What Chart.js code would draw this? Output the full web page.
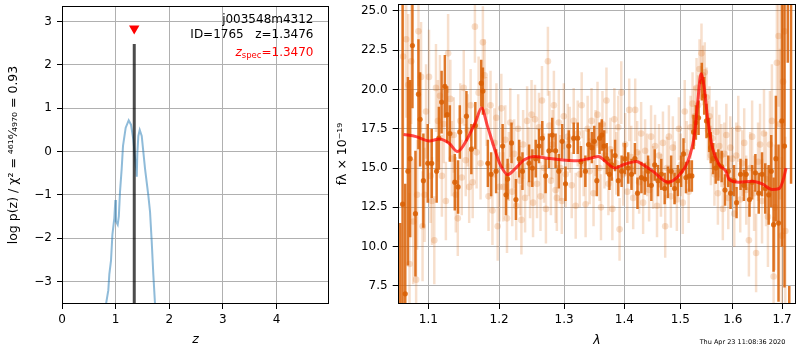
<!DOCTYPE html>
<html lang="en">
<head>
<meta charset="UTF-8">
<title>j003548m4312 redshift fit</title>
<script src="https://cdn.jsdelivr.net/npm/chart.js"></script>
<style>
  body { margin: 0; background: #fff; }
  #wrap { position: relative; width: 800px; height: 350px; }
  canvas { position: absolute; top: 0; }
</style>
</head>
<body>
<div id="wrap">
  <canvas id="pzChart" width="335" height="350" style="left:0"></canvas>
  <canvas id="specChart" width="465" height="350" style="left:335px"></canvas>
</div>
<script>
// ---- left panel: log p(z)
const zGrid = [0.80, 0.821, 0.864, 0.883, 0.914, 0.940, 0.976, 0.995, 1.007, 1.039, 1.060, 1.082, 1.113, 1.138,
  1.188, 1.244, 1.287, 1.330, 1.362, 1.388, 1.394, 1.405, 1.424, 1.450, 1.487, 1.549, 1.610, 1.642, 1.673, 1.703, 1.735, 1.75];
const logPz = [-3.9, -3.52, -3.2, -2.83, -2.52, -1.92, -1.54, -1.12, -1.61, -1.69, -1.50, -0.93, -0.40, 0.13,
  0.55, 0.72, 0.62, 0.28, -0.15, -0.45, -0.58, -0.05, 0.36, 0.50, 0.36, -0.40, -1.01, -1.39, -2.07, -2.83, -3.52, -3.9];
const zTicks = [0, 1, 2, 3, 4];
const pzTicks = [-3, -2, -1, 0, 1, 2, 3];
const zBest = 1.3476, zBestTop = 2.48, zBestBottom = -3.6;
const zSpec = 1.3470, zSpecMark = 2.84;

// ---- right panel: spectrum (wavelength in micron, flux x 1e-19)
const waveDark = [1.0627, 1.0657, 1.0692, 1.0727, 1.0757, 1.0787, 1.0827, 1.0867, 1.0889, 1.0933, 1.0992, 1.1046,
  1.1113, 1.1144, 1.1181, 1.1226, 1.1258, 1.1295, 1.1364, 1.1410, 1.1434, 1.1528, 1.1598, 1.1655, 1.1740, 1.1764,
  1.1836, 1.1884, 1.1957, 1.2053, 1.2103, 1.2127, 1.2186, 1.2252, 1.2301, 1.2351, 1.2452, 1.2502, 1.2554, 1.2605,
  1.2656, 1.2708, 1.2760, 1.2812, 1.2865, 1.2916, 1.2969, 1.3023, 1.3075, 1.3155, 1.3220, 1.3273, 1.3345, 1.3398,
  1.3452, 1.3492, 1.3535, 1.3580, 1.3618, 1.3658, 1.3701, 1.3746, 1.3785, 1.3842, 1.3897, 1.3954, 1.4011, 1.4068,
  1.4125, 1.4184, 1.4229, 1.4298, 1.4358, 1.4416, 1.4474, 1.4534, 1.4593, 1.4652, 1.4713, 1.4772, 1.4831, 1.4893,
  1.4953, 1.5014, 1.5058, 1.5104, 1.5166, 1.5214, 1.5246, 1.5289, 1.5340, 1.5401, 1.5447, 1.5490, 1.5541, 1.5572,
  1.5618, 1.5667, 1.5718, 1.5782, 1.5847, 1.5911, 1.5956, 1.6023, 1.6074, 1.6153, 1.6220, 1.6266, 1.6332, 1.6385,
  1.6451, 1.6519, 1.6586, 1.6652, 1.6722, 1.6775, 1.6823, 1.6871, 1.6926, 1.6995, 1.7051, 1.7120, 1.7151, 1.7189];
const fluxDark = [5.5, 12.7, 7.0, 14.8, 15.6, 22.8, 12.1, 19.7, 18.1, 14.2, 15.3, 15.3,
  14.8, 16.9, 19.2, 20.2, 18.4, 17.2, 14.1, 13.8, 17.3, 18.3, 16.2, 17.7, 20.4, 19.9,
  15.3, 14.6, 14.8, 16.4, 13.3, 14.3, 16.6, 13.0, 15.6, 14.8, 15.3, 15.0, 15.6, 16.4,
  16.9, 14.5, 16.1, 17.1, 16.1, 14.8, 16.7, 14.0, 16.4, 16.9, 16.9, 15.4, 14.8, 16.5,
  16.3, 16.7, 14.2, 16.9, 17.1, 16.4, 15.6, 14.6, 15.2, 15.8, 14.2, 14.8, 15.6, 15.0,
  14.6, 15.6, 13.4, 14.4, 14.3, 14.8, 13.9, 15.2, 14.2, 14.6, 13.7, 14.1, 14.8, 13.7,
  14.2, 14.8, 15.9, 14.4, 14.5, 14.5, 17.3, 17.9, 18.2, 20.5, 19.6, 18.0, 17.1, 16.3,
  15.6, 15.0, 15.2, 15.1, 13.6, 14.8, 13.4, 14.2, 12.8, 14.6, 13.9, 14.6, 13.0, 14.1,
  14.7, 13.4, 14.6, 13.7, 13.3, 14.8, 11.4, 15.6, 11.5, 18.0, 16.4, 30.0, 0.0, 30.0];
const errDark = [6, 13, 7, 6, 5, 4, 4, 3.5, 3, 3, 2.5, 2.2,
  2.0, 2.0, 2.0, 2.0, 1.8, 1.8, 1.8, 1.7, 1.7, 1.6, 1.6, 1.5, 1.5, 1.5,
  1.5, 1.4, 1.4, 1.4, 1.3, 1.3, 1.3, 1.3, 1.2, 1.2, 1.2, 1.2, 1.2, 1.1,
  1.1, 1.1, 1.1, 1.1, 1.1, 1.1, 1.1, 1.1, 1.0, 1.0, 1.0, 1.0, 1.0, 1.0,
  1.0, 1.0, 1.0, 1.0, 1.0, 1.0, 1.0, 1.0, 1.0, 1.0, 1.0, 1.0, 1.0, 1.0,
  1.0, 1.0, 1.0, 1.0, 1.0, 1.0, 1.0, 1.0, 1.0, 1.0, 1.0, 1.0, 1.0, 1.0,
  1.0, 1.0, 1.0, 1.0, 1.0, 1.0, 1.1, 1.1, 1.1, 1.2, 1.2, 1.1, 1.1, 1.0,
  1.0, 1.0, 1.0, 1.0, 1.0, 1.0, 1.0, 1.0, 1.0, 1.0, 1.0, 1.0, 1.1, 1.1,
  1.2, 1.3, 1.4, 1.6, 1.9, 2.3, 3, 4, 5, 8, 9, 8.3, 7.5, 16];

const waveLight = [1.0664, 1.0705, 1.0731, 1.0748, 1.0771, 1.0797, 1.0836, 1.0849, 1.0867, 1.0902, 1.0922, 1.0949,
  1.0969, 1.1009, 1.1030, 1.1050, 1.1081, 1.1104, 1.1131, 1.1158, 1.1185, 1.1212, 1.1240, 1.1271, 1.1302, 1.1323,
  1.1350, 1.1378, 1.1406, 1.1441, 1.1462, 1.1490, 1.1518, 1.1546, 1.1567, 1.1588, 1.1617, 1.1649, 1.1673, 1.1702,
  1.1730, 1.1764, 1.1788, 1.1817, 1.1846, 1.1875, 1.1903, 1.1932, 1.1961, 1.1980, 1.2005, 1.2034, 1.2063, 1.2093,
  1.2118, 1.2145, 1.2167, 1.2196, 1.2226, 1.2256, 1.2286, 1.2316, 1.2335, 1.2361, 1.2391, 1.2422, 1.2444, 1.2467,
  1.2490, 1.2513, 1.2543, 1.2574, 1.2605, 1.2628, 1.2651, 1.2682, 1.2713, 1.2744, 1.2768, 1.2791, 1.2815, 1.2838,
  1.2865, 1.2885, 1.2916, 1.2940, 1.2964, 1.2996, 1.3027, 1.3059, 1.3091, 1.3123, 1.3155, 1.3187, 1.3220, 1.3252,
  1.3285, 1.3317, 1.3349, 1.3382, 1.3414, 1.3447, 1.3480, 1.3513, 1.3546, 1.3580, 1.3604, 1.3629, 1.3663, 1.3696,
  1.3729, 1.3763, 1.3796, 1.3830, 1.3863, 1.3897, 1.3919, 1.3948, 1.3982, 1.4016, 1.4051, 1.4085, 1.4120, 1.4154,
  1.4189, 1.4224, 1.4258, 1.4293, 1.4328, 1.4363, 1.4398, 1.4434, 1.4469, 1.4504, 1.4540, 1.4575, 1.4611, 1.4646,
  1.4682, 1.4723, 1.4754, 1.4790, 1.4826, 1.4862, 1.4898, 1.4935, 1.4972, 1.5008, 1.5045, 1.5081, 1.5117, 1.5154,
  1.5190, 1.5227, 1.5265, 1.5302, 1.5330, 1.5358, 1.5395, 1.5423, 1.5457, 1.5490, 1.5518, 1.5547, 1.5575, 1.5604,
  1.5642, 1.5680, 1.5709, 1.5737, 1.5776, 1.5805, 1.5834, 1.5873, 1.5911, 1.5951, 1.5990, 1.6029, 1.6069, 1.6108,
  1.6147, 1.6186, 1.6226, 1.6266, 1.6320, 1.6346, 1.6385, 1.6425, 1.6465, 1.6505, 1.6546, 1.6586, 1.6626, 1.6667,
  1.6707, 1.6748, 1.6789, 1.6824, 1.6851, 1.6892, 1.6927, 1.6954, 1.6995, 1.7022, 1.7051, 1.7068];
const fluxLight = [22.1, 23.2, 20.3, 8.9, 21.8, 11.6, 7.9, 13.3, 23.7, 20.8, 11.3, 13.3,
  18.6, 20.8, 14.5, 12.9, 10.4, 20.1, 18.0, 19.6, 14.5, 17.8, 12.9, 22.3, 19.4, 15.6,
  17.1, 13.3, 11.8, 18.0, 14.4, 20.1, 15.5, 17.4, 13.8, 19.0, 14.1, 24.0, 16.0, 19.8,
  15.3, 23.0, 20.9, 18.6, 13.2, 19.0, 12.3, 16.6, 18.2, 11.3, 13.8, 18.8, 13.8, 16.8,
  11.8, 15.1, 17.9, 13.5, 15.9, 12.6, 17.5, 14.2, 11.7, 16.5, 13.1, 18.0, 15.4, 14.0,
  18.4, 12.8, 18.1, 14.0, 17.6, 13.2, 19.3, 15.0, 12.4, 21.8, 17.7, 14.2, 16.5, 19.0,
  13.6, 13.1, 17.9, 15.0, 12.9, 18.3, 14.6, 17.0, 16.8, 13.9, 18.0, 12.6, 17.2, 14.6,
  19.0, 15.3, 12.7, 17.5, 14.8, 18.0, 13.4, 16.6, 18.4, 15.0, 12.5, 17.8, 15.8, 19.3,
  14.0, 16.2, 12.4, 18.1, 15.3, 17.6, 11.1, 19.8, 14.6, 16.5, 13.5, 18.7, 15.7, 13.1,
  18.7, 16.0, 14.1, 17.2, 12.8, 16.1, 15.2, 13.6, 17.0, 14.4, 16.4, 12.6, 15.8, 13.9,
  16.6, 11.3, 15.0, 17.0, 13.2, 16.3, 14.7, 13.0, 17.5, 15.2, 12.8, 18.6, 16.0, 13.5,
  17.6, 19.1, 18.3, 20.1, 19.0, 21.3, 22.3, 20.9, 21.1, 19.5, 17.4, 18.3, 15.8, 16.9,
  14.6, 17.3, 13.4, 16.4, 15.8, 12.4, 15.9, 17.1, 13.1, 16.3, 15.6, 12.1, 15.8, 17.5,
  13.0, 15.3, 16.6, 13.6, 10.4, 15.0, 17.0, 13.4, 9.6, 15.4, 16.5, 12.9, 17.2, 14.3,
  11.9, 16.5, 18.0, 8.1, 12.5, 21.7, 23.4, 17.8, 10.7, 20.5, 23.7, 11.0];
const errLight = [5, 5, 4.5, 4.5, 4, 4, 4, 3.5, 3.5, 3.5, 3.5, 3,
  3, 3, 3, 2.8, 2.8, 2.8, 2.6, 2.6, 2.6, 2.5, 2.5, 2.5, 2.5, 2.4,
  2.4, 2.4, 2.4, 2.4, 2.4, 2.4, 2.3, 2.3, 2.3, 2.3, 2.3, 2.3, 2.3, 2.3,
  2.3, 2.3, 2.3, 2.2, 2.2, 2.2, 2.2, 2.2, 2.2, 2.2, 2.2, 2.2, 2.2, 2.2,
  2.2, 2.2, 2.2, 2.2, 2.2, 2.2, 2.2, 2.2, 2.2, 2.2, 2.2, 2.2, 2.2, 2.2,
  2.2, 2.2, 2.2, 2.2, 2.2, 2.2, 2.2, 2.2, 2.2, 2.2, 2.2, 2.2, 2.2, 2.2,
  2.1, 2.1, 2.1, 2.1, 2.1, 2.1, 2.1, 2.1, 2.1, 2.1, 2.1, 2.1, 2.1, 2.1,
  2.1, 2.1, 2.1, 2.1, 2.1, 2.1, 2.1, 2.1, 2.1, 2.1, 2.1, 2.1, 2.1, 2.1,
  2.0, 2.0, 2.0, 2.0, 2.0, 2.0, 2.0, 2.0, 2.0, 2.0, 2.0, 2.0, 2.0, 2.0,
  2.0, 2.0, 2.0, 2.0, 2.0, 2.0, 2.0, 2.0, 2.0, 2.0, 2.0, 2.0, 2.0, 2.0,
  2.0, 2.0, 2.0, 2.0, 2.0, 2.0, 2.0, 2.0, 2.0, 2.0, 2.0, 2.0, 2.0, 2.0,
  2.0, 2.0, 1.9, 1.9, 1.9, 1.9, 1.9, 1.9, 1.9, 1.9, 1.9, 1.9, 1.9, 2.0,
  2.0, 2.0, 2.0, 2.0, 2.0, 2.0, 2.0, 2.0, 2.0, 2.0, 2.0, 2.1, 2.1, 2.1,
  2.1, 2.1, 2.2, 2.2, 2.3, 2.3, 2.3, 2.4, 2.5, 2.5, 2.6, 2.7, 2.8, 3.0,
  3.2, 3.4, 3.6, 3.8, 4.0, 4.2, 4.5, 4.8, 5.0, 5.5, 6.0, 6.0];

const waveModel = [1.0670, 1.0836, 1.1013, 1.1148, 1.1285, 1.1402, 1.1518, 1.1659, 1.1745, 1.1826, 1.1947, 1.2020,
  1.2128, 1.2227, 1.2377, 1.2528, 1.2733, 1.2944, 1.3207, 1.3426, 1.3563, 1.3646, 1.3842, 1.3983, 1.4212, 1.4328,
  1.4504, 1.4774, 1.4985, 1.5138, 1.5262, 1.5324, 1.5387, 1.5450, 1.5512, 1.5607, 1.5736, 1.5864, 1.5929, 1.6124,
  1.6388, 1.6589, 1.6793, 1.6943, 1.7035, 1.7083];
const fluxModel = [17.14, 17.0, 16.73, 16.85, 16.58, 16.05, 16.68, 17.94, 18.83, 17.73, 16.05, 15.2,
  14.58, 14.9, 15.53, 15.74, 15.63, 15.53, 15.47, 15.63, 15.74, 15.53, 15.0, 15.21, 15.42, 15.21,
  14.79, 14.1, 14.58, 15.42, 17.1, 19.2, 21.0, 20.04, 18.15, 16.26, 15.21, 14.79, 14.27, 14.1,
  14.16, 13.99, 13.64, 13.7, 14.37, 15.0];
const waveTicks = [1.1, 1.2, 1.3, 1.4, 1.5, 1.6, 1.7];
const fluxTicks = [7.5, 10.0, 12.5, 15.0, 17.5, 20.0, 22.5, 25.0];

const FONT = 'DejaVu Sans';
const minus = v => (v < 0 ? '\u2212' : '') + Math.abs(v);
const pts = (xs, ys) => xs.map((x, i) => ({x: x, y: ys[i]}));

// full box frame like matplotlib spines
const framePlugin = {
  id: 'frame',
  afterDatasetsDraw(chart) {
    const a = chart.chartArea, ctx = chart.ctx;
    ctx.save();
    ctx.strokeStyle = '#000';
    ctx.lineWidth = 1;
    ctx.strokeRect(Math.round(a.left) + 0.5, Math.round(a.top) + 0.5,
      Math.round(a.right - a.left) - 1, Math.round(a.bottom - a.top) - 1);
    ctx.restore();
  }
};

// vertical error bars, drawn just before the dataset's markers
const errorBarPlugin = {
  id: 'errbars',
  beforeDatasetDraw(chart, args) {
    const ds = chart.data.datasets[args.index];
    if (!ds.errors) return;
    const ctx = chart.ctx, a = chart.chartArea;
    const xs = chart.scales.x, ys = chart.scales.y;
    ctx.save();
    ctx.beginPath();
    ctx.rect(a.left, a.top, a.right - a.left, a.bottom - a.top);
    ctx.clip();
    ctx.strokeStyle = ds.errorColor;
    ctx.lineWidth = ds.errorWidth;
    ds.data.forEach((p, i) => {
      const px = xs.getPixelForValue(p.x);
      ctx.beginPath();
      ctx.moveTo(px, ys.getPixelForValue(p.y - ds.errors[i]));
      ctx.lineTo(px, ys.getPixelForValue(p.y + ds.errors[i]));
      ctx.stroke();
    });
    ctx.restore();
  }
};

const labelPlugin = {
  id: 'pzlabels',
  afterDatasetsDraw(chart) {
    const ctx = chart.ctx, x = chart.chartArea.right - 15.5;
    ctx.save();
    ctx.textAlign = 'right';
    ctx.textBaseline = 'middle';
    ctx.fillStyle = '#000';
    ctx.font = '12px "' + FONT + '"';
    ctx.fillText('j003548m4312', x, 20);
    ctx.fillText('ID=1765   z=1.3476', x, 35);
    // z_spec line in red
    ctx.fillStyle = 'red';
    const rest = '=1.3470';
    const wRest = ctx.measureText(rest).width;
    ctx.font = '8.5px "' + FONT + '"';
    const wSub = ctx.measureText('spec').width;
    ctx.font = 'italic 12px "' + FONT + '"';
    const wZ = ctx.measureText('z').width;
    ctx.textAlign = 'left';
    let x0 = x - wRest - wSub - wZ;
    ctx.fillText('z', x0, 53);
    ctx.font = '8.5px "' + FONT + '"';
    ctx.fillText('spec', x0 + wZ, 56);
    ctx.font = '12px "' + FONT + '"';
    ctx.fillText(rest, x0 + wZ + wSub, 53);
    ctx.restore();
  }
};

const stampPlugin = {
  id: 'stamp',
  afterDraw(chart) {
    const ctx = chart.ctx;
    ctx.save();
    ctx.font = '6.5px "' + FONT + '"';
    ctx.fillStyle = '#000';
    ctx.textAlign = 'center';
    ctx.textBaseline = 'middle';
    ctx.fillText('Thu Apr 23 11:08:36 2020', 407.5, 342.5);
    ctx.restore();
  }
};

function axisX(opts) {
  return Object.assign({
    border: {display: false},
    grid: {color: '#b0b0b0', lineWidth: 1, tickColor: '#000', tickLength: 5},
    ticks: {color: '#000', font: {family: FONT, size: 12}, padding: 4, maxRotation: 0},
    afterFit: s => { s.height = 46; s.paddingLeft = 0; s.paddingRight = 0; }
  }, opts);
}
function axisY(opts, width) {
  return Object.assign({
    border: {display: false},
    grid: {color: '#b0b0b0', lineWidth: 1, tickColor: '#000', tickLength: 5},
    ticks: {color: '#000', font: {family: FONT, size: 12}, padding: 5},
    afterFit: s => { s.width = width; s.paddingTop = 0; s.paddingBottom = 0; }
  }, opts);
}

const common = {
  responsive: false,
  animation: false,
  devicePixelRatio: 1,
  plugins: {legend: {display: false}, tooltip: {enabled: false}}
};

new Chart(document.getElementById('pzChart'), {
  type: 'scatter',
  data: {
    datasets: [
      {type: 'scatter', data: [{x: zSpec, y: zSpecMark}], pointStyle: 'triangle', rotation: 180,
        pointRadius: 6, backgroundColor: 'red', borderColor: 'red', borderWidth: 0, clip: 0},
      {type: 'line', data: [{x: zBest, y: zBestBottom}, {x: zBest, y: zBestTop}],
        borderColor: 'rgba(0,0,0,0.7)', borderWidth: 3, pointRadius: 0, clip: 0},
      {type: 'line', data: pts(zGrid, logPz), borderColor: 'rgba(31,119,180,0.5)', borderWidth: 2,
        pointRadius: 0, tension: 0, clip: 0}
    ]
  },
  options: Object.assign({}, common, {
    layout: {padding: {top: 1, right: 6, left: 0, bottom: 0}},
    scales: {
      x: axisX({type: 'linear', min: 0, max: 4.98,
        afterBuildTicks: s => { s.ticks = zTicks.map(v => ({value: v})); },
        title: {display: true, text: 'z', font: {family: FONT, size: 12.5, style: 'italic'}, color: '#000',
          padding: {top: 0, bottom: 2.5}}
      }),
      y: axisY({type: 'linear', min: -3.52, max: 3.36,
        afterBuildTicks: s => { s.ticks = pzTicks.map(v => ({value: v})); },
        title: {display: true, text: 'log p(z) / \u03c7\u00b2 = \u2074\u2076\u00b9\u2076\u2044\u2084\u2089\u2087\u2080 = 0.93',
          font: {family: FONT, size: 12.5}, color: '#000', padding: {top: 6.5, bottom: 0}}
      }, 62)
    }
  }),
  plugins: [framePlugin, labelPlugin]
});
Chart.getChart('pzChart').options.scales.y.ticks.callback = v => minus(v);
Chart.getChart('pzChart').update();

new Chart(document.getElementById('specChart'), {
  type: 'scatter',
  data: {
    datasets: [
      {type: 'line', data: pts(waveModel, fluxModel), borderColor: 'rgba(255,0,0,0.7)', borderWidth: 3,
        pointRadius: 0, cubicInterpolationMode: 'monotone', clip: 0},
      {type: 'scatter', data: pts(waveDark, fluxDark), errors: errDark,
        errorColor: 'rgba(217,95,2,0.85)', errorWidth: 2.5,
        backgroundColor: 'rgba(217,95,2,0.85)', borderWidth: 0, pointRadius: 2.6, clip: 0},
      {type: 'scatter', data: pts(waveLight, fluxLight), errors: errLight,
        errorColor: 'rgba(217,95,2,0.2)', errorWidth: 2.5,
        backgroundColor: 'rgba(217,95,2,0.2)', borderWidth: 0, pointRadius: 3.3, clip: 0}
    ]
  },
  options: Object.assign({}, common, {
    layout: {padding: {top: 1, right: 0.7, left: 0, bottom: 0}},
    scales: {
      x: axisX({type: 'logarithmic', min: 1.0593, max: 1.7294,
        afterBuildTicks: s => { s.ticks = waveTicks.map(v => ({value: v})); },
        title: {display: true, text: '\u03bb', font: {family: FONT, size: 12.5, style: 'italic'}, color: '#000',
          padding: {top: 0, bottom: 2}}
      }),
      y: axisY({type: 'linear', min: 6.35, max: 25.44,
        afterBuildTicks: s => { s.ticks = fluxTicks.map(v => ({value: v})); },
        title: {display: true, text: 'f\u03bb \u00d7 10\u207b\u00b9\u2079', font: {family: FONT, size: 12.5},
          color: '#000', padding: {top: 0.5, bottom: 0}}
      }, 62.7)
    }
  }),
  plugins: [framePlugin, errorBarPlugin, stampPlugin]
});
const spec = Chart.getChart('specChart');
spec.options.scales.x.ticks.callback = v => v.toFixed(1);
spec.options.scales.y.ticks.callback = v => v.toFixed(1);
spec.update();
</script>
</body>
</html>
